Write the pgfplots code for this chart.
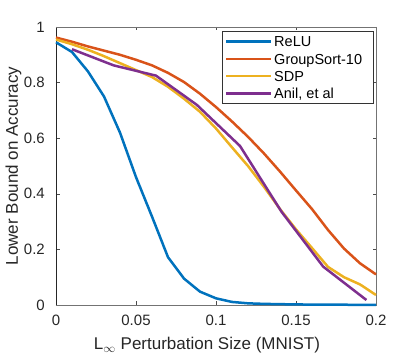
\documentclass[border=0pt]{standalone}
\usepackage{fontspec}
\setmainfont{Liberation Sans}
\usepackage{pgfplots}
\pgfplotsset{compat=1.18}

\definecolor{mblue}{rgb}{0,0.447,0.741}
\definecolor{morange}{rgb}{0.85,0.325,0.098}
\definecolor{myellow}{rgb}{0.929,0.694,0.125}
\definecolor{mpurple}{rgb}{0.494,0.184,0.556}

\newcommand{\legtext}[1]{\makebox[94pt][l]{\fontsize{14.5}{17}\selectfont\strut #1}}

\begin{document}
\begin{tikzpicture}
\begin{axis}[
    width=320pt, height=278pt, scale only axis,
    xmin=0, xmax=0.2, ymin=0, ymax=1,
    clip=false,
    xtick={0,0.05,0.1,0.15,0.2}, xticklabels={0,0.05,0.1,0.15,0.2},
    ytick={0,0.2,0.4,0.6,0.8,1}, yticklabels={0,0.2,0.4,0.6,0.8,1},
    tick align=inside, major tick length=3.5pt,
    tick style={black!70, line width=0.5pt},
    axis line style={draw=none},
    ticklabel style={font=\fontsize{15}{18}\selectfont, text=black!85, inner sep=0pt},
    xticklabel style={yshift=-10pt},
    yticklabel style={xshift=-11pt},
    label style={font=\fontsize{17}{20}\selectfont, text=black!85, inner sep=0pt},
    xlabel={L$_{\infty}$ Perturbation Size (MNIST)},
    xlabel style={at={(axis description cs:0.5,0)}, anchor=north, yshift=-32pt, xshift=-9pt},
    ylabel={Lower Bound on Accuracy},
    ylabel style={at={(axis description cs:0,0.5)}, anchor=south, yshift=34.5pt},
    legend cell align=left,
    legend image code/.code={\draw[#1, line width=2.5pt] (0pt,0pt) -- (45pt,0pt);},
    legend style={at={(axis description cs:1,1)}, anchor=north east,
        xshift=-3pt, yshift=-4.5pt,
        draw=black!80, line width=0.5pt, fill=white,
        inner xsep=3pt, inner ysep=1.5pt, row sep=1pt,
        nodes={inner sep=1.5pt}},
    every axis plot/.append style={line width=2.5pt},
]
\coordinate (O) at (rel axis cs:0,0);
\draw[black!85, line width=0.6pt] (rel axis cs:0,0) -- (rel axis cs:0,1);
\draw[black!55, line width=0.6pt] (rel axis cs:0,0) -- (rel axis cs:1,0) -- (rel axis cs:1,1) -- (rel axis cs:0,1);

\addplot[mblue] coordinates {
(0,0.945) (0.01,0.91) (0.02,0.84) (0.03,0.75) (0.04,0.62) (0.05,0.46)
(0.06,0.318) (0.07,0.172) (0.08,0.095) (0.09,0.048) (0.10,0.024)
(0.11,0.011) (0.12,0.006) (0.13,0.004) (0.14,0.003) (0.15,0.002)
(0.16,0.0015) (0.17,0.001) (0.18,0.001) (0.19,0.0005) (0.2,0.0005)
};
\addlegendentry{\legtext{ReLU}}

\addplot[morange] coordinates {
(0,0.962) (0.01,0.947) (0.02,0.93) (0.03,0.915) (0.04,0.90) (0.05,0.882)
(0.06,0.862) (0.07,0.835) (0.08,0.802) (0.09,0.76) (0.10,0.712)
(0.11,0.66) (0.12,0.605) (0.13,0.545) (0.14,0.48) (0.15,0.412)
(0.16,0.345) (0.17,0.27) (0.18,0.203) (0.19,0.15) (0.2,0.11)
};
\addlegendentry{\legtext{GroupSort-10}}

\addplot[myellow] coordinates {
(0,0.955) (0.01,0.938) (0.02,0.918) (0.03,0.895) (0.04,0.87) (0.05,0.845)
(0.06,0.82) (0.07,0.785) (0.08,0.742) (0.09,0.695) (0.10,0.635)
(0.11,0.567) (0.12,0.50) (0.13,0.425) (0.14,0.345) (0.15,0.272)
(0.16,0.205) (0.17,0.137) (0.18,0.10) (0.19,0.074) (0.2,0.036)
};
\addlegendentry{\legtext{SDP}}

\addplot[mpurple] coordinates {
(0.01,0.92) (0.036,0.862) (0.0625,0.825) (0.088,0.72) (0.115,0.572)
(0.141,0.335) (0.167,0.138) (0.194,0.018)
};
\addlegendentry{\legtext{Anil, et al}}
\end{axis}
\path (O) ++(-56pt,-53pt) rectangle ++(415pt,358pt);
\end{tikzpicture}
\end{document}
